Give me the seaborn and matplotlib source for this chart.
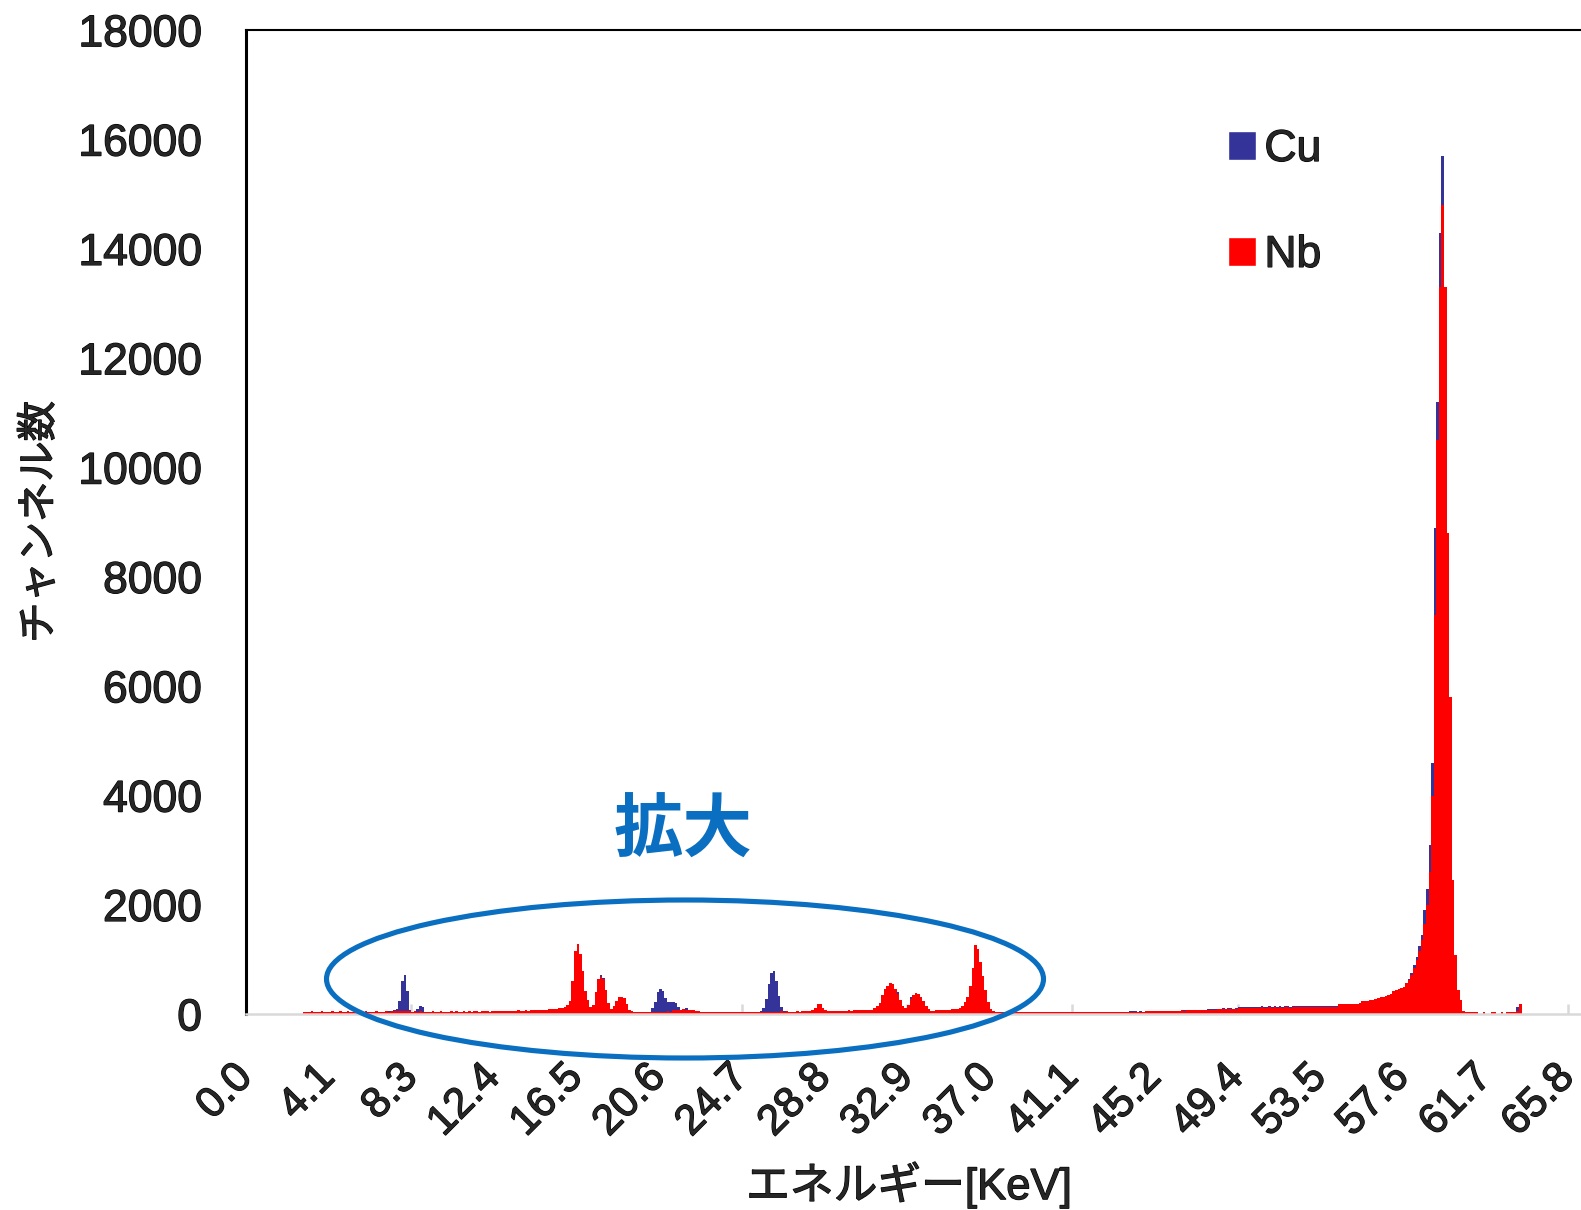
import numpy as np
import matplotlib
matplotlib.use("Agg")
import matplotlib.pyplot as plt
import matplotlib.patheffects as pe
from matplotlib.patches import Ellipse, Patch
import seaborn as sns

# Energy labels shown every 32 channels (512 channels, 0-65.8 keV)
energy_labels = ["0.0", "4.1", "8.3", "12.4", "16.5", "20.6", "24.7", "28.8", "32.9",
                 "37.0", "41.1", "45.2", "49.4", "53.5", "57.6", "61.7", "65.8"]

# Channel counts of the Cu target spectrum
cu_counts = [
    0, 0, 0, 0, 0, 0, 0, 0, 0, 0, 0, 0, 0, 0, 0, 0,
    0, 0, 0, 0, 0, 0, 30, 35, 30, 40, 35, 30, 35, 40, 30, 35,
    35, 40, 30, 35, 40, 35, 30, 40, 35, 30, 35, 40, 35, 30, 40, 35,
    35, 30, 40, 35, 40, 45, 50, 55, 60, 70, 90, 250, 600, 720, 420, 80,
    45, 50, 100, 150, 140, 50, 40, 35, 40, 35, 40, 30, 35, 40, 30, 35,
    35, 40, 30, 35, 40, 35, 40, 35, 45, 40, 35, 40, 45, 40, 35, 45,
    40, 45, 40, 50, 45, 40, 50, 45, 50, 55, 50, 45, 55, 50, 60, 55,
    60, 65, 60, 70, 65, 75, 80, 85, 90, 95, 100, 115, 150, 220, 530, 1050,
    1180, 1000, 720, 380, 240, 120, 160, 380, 640, 720, 660, 420, 180, 90, 130, 230,
    290, 300, 280, 160, 70, 45, 45, 50, 45, 50, 45, 50, 40, 110, 220, 400,
    460, 420, 300, 230, 220, 220, 200, 130, 60, 50, 110, 70, 50, 45, 40, 35,
    35, 30, 35, 30, 30, 35, 30, 35, 30, 35, 30, 35, 40, 45, 50, 45,
    50, 45, 40, 35, 30, 35, 40, 60, 110, 280, 560, 760, 800, 600, 330, 130,
    60, 40, 35, 30, 35, 40, 35, 40, 45, 40, 50, 60, 110, 170, 170, 110,
    60, 45, 40, 45, 50, 45, 50, 45, 50, 55, 50, 55, 60, 55, 60, 65,
    65, 70, 70, 100, 140, 190, 330, 440, 500, 550, 540, 460, 400, 240, 140, 100,
    160, 320, 340, 370, 360, 300, 220, 140, 90, 50, 50, 55, 60, 55, 65, 70,
    70, 75, 80, 85, 100, 140, 200, 300, 490, 800, 1200, 1130, 900, 660, 420, 200,
    90, 50, 35, 30, 35, 30, 30, 35, 35, 30, 30, 35, 30, 35, 30, 35,
    30, 35, 30, 30, 35, 30, 35, 30, 35, 30, 30, 35, 30, 35, 30, 35,
    30, 35, 30, 35, 30, 30, 35, 30, 35, 30, 35, 30, 30, 35, 30, 35,
    30, 35, 30, 35, 50, 35, 55, 60, 55, 40, 60, 45, 50, 60, 50, 55,
    50, 55, 50, 55, 55, 50, 55, 60, 60, 65, 70, 70, 75, 70, 75, 75,
    75, 80, 80, 85, 100, 95, 100, 105, 100, 105, 110, 105, 110, 110, 105, 110,
    135, 140, 135, 140, 135, 140, 140, 135, 140, 145, 140, 140, 145, 140, 145, 140,
    145, 140, 145, 145, 140, 145, 150, 145, 145, 150, 145, 150, 145, 150, 150, 145,
    150, 150, 145, 150, 155, 150, 150, 180, 175, 180, 180, 175, 180, 185, 180, 190,
    230, 235, 240, 250, 260, 265, 280, 300, 310, 330, 340, 370, 410, 435, 450, 465,
    490, 560, 650, 760, 900, 1050, 1250, 1450, 1900, 2300, 3100, 4600, 8900, 11200, 14300, 15700,
    13000, 8200, 5500, 2300, 1000, 400, 240, 40, 30, 30, 30, 30, 30, 0, 0, 30,
    0, 0, 30, 30, 0, 0, 30, 0, 30, 30, 30, 30, 140, 150, 0, 0,
    0, 0, 0, 0, 0, 0, 0, 0, 0, 0, 0, 0, 0, 0, 0, 0,
]

# Channel counts of the Nb target spectrum
nb_counts = [
    0, 0, 0, 0, 0, 0, 0, 0, 0, 0, 0, 0, 0, 0, 0, 0,
    0, 0, 0, 0, 0, 0, 45, 50, 45, 55, 50, 45, 50, 55, 45, 50,
    50, 55, 45, 50, 55, 50, 45, 55, 50, 45, 50, 55, 50, 45, 55, 50,
    50, 45, 55, 50, 45, 50, 55, 50, 60, 55, 60, 65, 60, 65, 60, 55,
    50, 55, 50, 55, 45, 50, 45, 50, 55, 45, 50, 55, 45, 50, 45, 55,
    50, 55, 45, 50, 55, 50, 55, 50, 60, 55, 50, 55, 60, 55, 50, 60,
    55, 60, 55, 65, 60, 55, 65, 60, 65, 70, 65, 60, 70, 65, 75, 70,
    75, 80, 75, 85, 80, 90, 95, 100, 105, 110, 115, 130, 170, 250, 600, 1150,
    1290, 1100, 800, 420, 260, 130, 170, 400, 650, 690, 640, 450, 200, 100, 150, 250,
    310, 320, 300, 180, 80, 55, 45, 50, 45, 40, 45, 45, 40, 45, 50, 45,
    50, 45, 50, 55, 50, 70, 75, 80, 85, 90, 85, 80, 75, 70, 60, 55,
    50, 45, 50, 45, 40, 45, 50, 45, 50, 45, 40, 45, 50, 45, 45, 50,
    45, 50, 45, 50, 45, 50, 45, 50, 45, 45, 50, 45, 50, 45, 50, 55,
    50, 55, 50, 45, 50, 55, 50, 55, 60, 55, 65, 75, 120, 180, 180, 120,
    75, 60, 55, 60, 65, 60, 65, 60, 65, 70, 65, 70, 75, 70, 75, 80,
    80, 85, 85, 110, 150, 200, 350, 460, 520, 570, 560, 470, 380, 260, 150, 110,
    170, 280, 350, 390, 380, 320, 240, 150, 100, 65, 65, 70, 75, 70, 80, 85,
    85, 90, 95, 100, 110, 150, 220, 320, 520, 850, 1270, 1200, 950, 700, 450, 220,
    100, 60, 45, 40, 45, 40, 40, 45, 45, 40, 40, 45, 40, 45, 40, 45,
    40, 45, 40, 40, 45, 40, 45, 40, 45, 40, 40, 45, 40, 45, 40, 45,
    40, 45, 40, 45, 40, 40, 45, 40, 45, 40, 45, 40, 40, 45, 40, 45,
    40, 45, 40, 45, 45, 40, 45, 45, 50, 45, 50, 50, 55, 55, 55, 60,
    55, 60, 55, 60, 60, 55, 60, 60, 65, 65, 70, 65, 70, 75, 70, 75,
    75, 80, 80, 85, 80, 85, 85, 85, 90, 90, 95, 90, 95, 95, 100, 95,
    115, 120, 115, 120, 115, 120, 120, 115, 120, 125, 120, 120, 125, 120, 125, 120,
    125, 120, 125, 125, 120, 125, 130, 125, 125, 130, 125, 130, 125, 130, 130, 125,
    130, 130, 125, 130, 135, 130, 130, 190, 185, 190, 190, 185, 190, 195, 190, 200,
    240, 245, 250, 260, 270, 275, 290, 310, 320, 340, 350, 380, 420, 445, 460, 475,
    500, 567, 620, 720, 850, 1000, 1150, 1350, 1650, 2000, 2600, 4000, 7300, 10500, 13300, 14800,
    13300, 8800, 5800, 2450, 1085, 440, 260, 60, 40, 40, 40, 40, 40, 0, 0, 40,
    0, 0, 40, 40, 0, 0, 40, 0, 40, 40, 40, 40, 60, 190, 0, 0,
    0, 0, 0, 0, 0, 0, 0, 0, 0, 0, 0, 0, 0, 0, 0, 0,
]

y_ticks = list(range(0, 18001, 2000))

CU_COLOR = "#333399"
NB_COLOR = "#FF0000"
NOTE_COLOR = "#0a6fc0"

channels = np.arange(len(cu_counts))

sns.set_style("white")
plt.rcParams["font.family"] = ["Liberation Sans", "Noto Sans CJK JP"]

W, H = 1581, 1210
fig = plt.figure(figsize=(W / 100, H / 100), dpi=100)

# plot area in pixels
x_left, x_right = 246, 1590
y_zero, y_top = 1014.3, 30.25
ax = fig.add_axes([x_left / W, (H - y_zero) / H,
                   (x_right - x_left) / W, (y_zero - y_top) / H])

sns.barplot(x=channels, y=cu_counts, native_scale=True, width=1,
            color=CU_COLOR, saturation=1, errorbar=None, linewidth=0, ax=ax)
sns.barplot(x=channels, y=nb_counts, native_scale=True, width=1,
            color=NB_COLOR, saturation=1, errorbar=None, linewidth=0, ax=ax)
for p in ax.patches:
    p.set_antialiased(False)

px_per_ch = (1568 - x_left) / 512
ax.set_xlim(-0.5, -0.5 + (x_right - x_left) / px_per_ch)
ax.set_ylim(0, 18000)

# category labels every 32 channels, tick marks every 64 channels
ax.xaxis.remove_overlapping_locs = False
ax.set_xticks(np.arange(0, 513, 32) - 0.5, labels=energy_labels)
ax.set_xticks(np.arange(64, 513, 64) - 0.5, minor=True)
ax.tick_params(axis="x", which="major", length=0, pad=41, labelsize=30.5)
for lbl in ax.get_xticklabels():
    lbl.set_rotation(45)
    lbl.set_ha("right")
    lbl.set_va("center")
    lbl.set_rotation_mode("anchor")
ax.tick_params(axis="x", which="minor", bottom=True, direction="in",
               length=7.5, width=1.8, color="#d9d9d9")

ax.set_yticks(y_ticks, labels=[str(v) for v in y_ticks])
ax.tick_params(axis="y", length=0, pad=31.7, labelsize=32)

for side in ("left", "top"):
    ax.spines[side].set_color("black")
ax.spines["left"].set_linewidth(2.2)
ax.spines["top"].set_linewidth(1.5)
ax.spines["bottom"].set_color("#d9d9d9")
ax.spines["bottom"].set_linewidth(1.8)
ax.spines["right"].set_visible(False)

ax.set_xlabel("エネルギー[KeV]", fontsize=31.5, va="center")
ax.xaxis.set_label_coords((909 - x_left) / (x_right - x_left),
                          -(1185 - y_zero) / (y_zero - y_top))
ax.set_ylabel("チャンネル数", fontsize=29, va="center")
ax.yaxis.set_label_coords((40 - x_left) / (x_right - x_left),
                          (y_zero - 522) / (y_zero - y_top))

handles = [Patch(facecolor=CU_COLOR, label="Cu"),
           Patch(facecolor=NB_COLOR, label="Nb")]
leg = ax.legend(handles=handles, loc="upper left",
                bbox_to_anchor=((1228 - x_left) / (x_right - x_left),
                                (y_zero - 129) / (y_zero - y_top)),
                frameon=False, fontsize=32, handlelength=0.62, handleheight=0.62,
                handletextpad=0.2, labelspacing=1.46, borderpad=0, borderaxespad=0)

# slightly heavier strokes for the black text
heavy = [pe.withStroke(linewidth=0.9, foreground="black")]
for t in (ax.get_xticklabels() + ax.get_yticklabels() + leg.get_texts()
          + [ax.xaxis.label, ax.yaxis.label]):
    t.set_path_effects(heavy)

# highlight of the low-energy region
ax.add_patch(Ellipse(((685 - x_left) / (x_right - x_left), (y_zero - 979) / (y_zero - y_top)),
                     717 / (x_right - x_left), 158 / (y_zero - y_top),
                     transform=ax.transAxes, fill=False, edgecolor=NOTE_COLOR,
                     linewidth=3.7, clip_on=False, zorder=5))
ax.text((683 - x_left) / (x_right - x_left), (y_zero - 832) / (y_zero - y_top), "拡大",
        transform=ax.transAxes, ha="center", va="center", fontsize=50,
        fontweight="bold", color=NOTE_COLOR, family=["Noto Sans CJK JP"])

fig.savefig("out.png", dpi=100)
